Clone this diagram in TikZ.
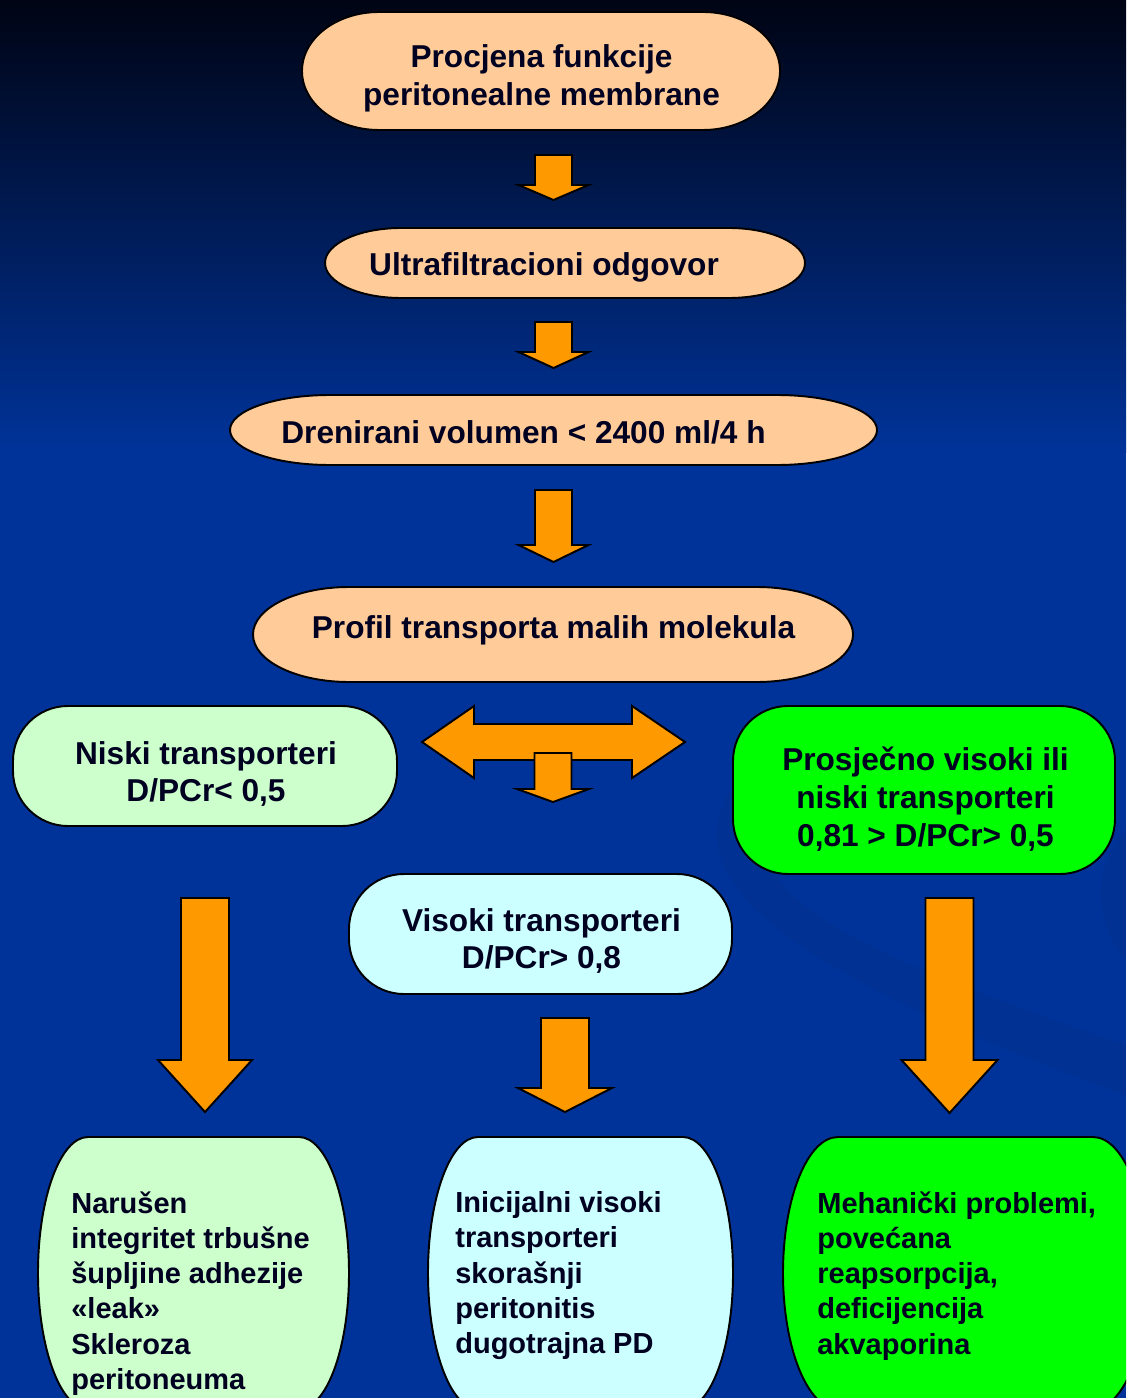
\documentclass[tikz,border=0pt]{standalone}
\usepackage{fontspec}
\setmainfont{Liberation Sans}
\usepackage{xcolor}
\usepackage{tikz}
\definecolor{ink}{RGB}{0,0,32}
\definecolor{peach}{RGB}{255,204,153}
\definecolor{palegreen}{RGB}{204,255,204}
\definecolor{palecyan}{RGB}{204,255,255}
\definecolor{brightgreen}{RGB}{0,255,0}
\definecolor{arroworange}{RGB}{255,153,0}
\definecolor{bgtop}{RGB}{0,4,20}
\definecolor{bgblue}{RGB}{0,51,153}
\tikzset{
  outline/.style={draw=black, line width=1.1pt},
  midbox/.style={outline, rounded corners=1.1cm},
  blockarrow/.style={outline, fill=arroworange, line join=miter},
  label/.style={text=ink, font=\fontsize{18}{21.6}\selectfont\bfseries,
                align=center, inner sep=0pt},
  note/.style={text=ink, font=\fontsize{16.5}{20.1}\selectfont\bfseries,
               align=left, anchor=north west, inner sep=0pt},
  swirl/.style={fill=black, opacity=0.04}
}
% box with elliptical ends: x1, y1, x2, y2, end radius, fill
\newcommand{\termbox}[6]{%
  \pgfmathsetmacro{\ym}{(#2+#4)/2}%
  \pgfmathsetmacro{\ry}{(#4-#2)/2}%
  \filldraw[outline, fill=#6] ({#1+#5},#2) -- ({#3-#5},#2)
    .. controls ({#3-0.448*#5},#2) and (#3,{\ym-0.552*\ry}) .. (#3,\ym)
    .. controls (#3,{\ym+0.552*\ry}) and ({#3-0.448*#5},#4) .. ({#3-#5},#4)
    -- ({#1+#5},#4)
    .. controls ({#1+0.448*#5},#4) and (#1,{\ym+0.552*\ry}) .. (#1,\ym)
    .. controls (#1,{\ym-0.552*\ry}) and ({#1+0.448*#5},#2) .. ({#1+#5},#2) -- cycle;}

\begin{document}
\begin{tikzpicture}[x=0.02cm, y=-0.02cm]
  \useasboundingbox (0,0) rectangle (1126,1398);
  \clip (0,0) rectangle (1126,1398);
  % background
  \shade[top color=bgtop, bottom color=bgblue] (0,0) rectangle (1126,452);
  \fill[bgblue] (0,450) rectangle (1126,1398);
  \fill[swirl] (730,790) .. controls (690,860) and (720,950) .. (1126,1095)
    -- (1126,1045) .. controls (820,940) and (730,890) .. (770,790) -- cycle;
  \fill[swirl] (1126,830) .. controls (1095,860) and (1090,920) .. (1126,960) -- cycle;

  % boxes
  \termbox{302}{12}{780}{130}{77}{peach}
  \termbox{325}{228}{805}{298}{76}{peach}
  \termbox{230}{395}{877}{465}{100}{peach}
  \termbox{253}{587}{853}{682}{96}{peach}
  \draw[midbox, fill=palegreen] (13,706) rectangle (397,826);
  \draw[midbox, fill=brightgreen] (733,706) rectangle (1115,874);
  \draw[midbox, fill=palecyan] (349,874) rectangle (732,994);
  \termbox{38}{1137}{349}{1409}{50}{palegreen}
  \termbox{428}{1137}{733}{1409}{50}{palecyan}
  \termbox{783}{1137}{1148}{1409}{55}{brightgreen}

  % arrows
  \draw[blockarrow] (422,742) -- (474,706) -- (474,724) -- (632,724) -- (632,706)
    -- (685,742) -- (632,778) -- (632,760) -- (474,760) -- (474,778) -- cycle;
  \foreach \cx/\ys/\yh/\yp/\sw/\hw in {553.5/155/185/200/18.5/35,
      553.5/322/352/368/18.5/35, 553.5/490/545/562/18.5/35,
      553/753/789/802/18.5/36, 205/898/1060/1112/24/47,
      565/1018/1088/1112/24/47, 949.5/898/1060/1113/24/48}
    \draw[blockarrow] ({\cx-\sw},\ys) -- ({\cx+\sw},\ys) -- ({\cx+\sw},\yh)
      -- ({\cx+\hw},\yh) -- (\cx,\yp) -- ({\cx-\hw},\yh) -- ({\cx-\sw},\yh) -- cycle;

  % texts
  \node[label] (proc) at (541.5,78) {Procjena funkcije\\peritonealne membrane};
  \node[label] (ultra) at (544,267.5) {Ultrafiltracioni odgovor};
  \node[label] (dren) at (523.5,432) {Drenirani volumen < 2400 ml/4 h};
  \node[label] (profil) at (553.5,630) {Profil transporta malih molekula};
  \node[label] (niski) at (206,774) {Niski transporteri\\D/PCr< 0,5};
  \node[label] (prosj) at (925.5,799) {Prosječno visoki ili\\niski transporteri\\0,81 > D/PCr> 0,5};
  \node[label] (visoki) at (541.5,941) {Visoki transporteri\\D/PCr> 0,8};
  \node[note] (narusen) at (71,1191) {Narušen\\integritet trbušne\\šupljine adhezije\\«leak»\\Skleroza\\peritoneuma};
  \node[note] (inicij) at (455,1191) {Inicijalni visoki\\transporteri\\skorašnji\\peritonitis\\dugotrajna PD};
  \node[note] (mehan) at (817,1191) {Mehanički problemi,\\povećana\\reapsorpcija,\\deficijencija\\akvaporina};
\end{tikzpicture}
\end{document}
